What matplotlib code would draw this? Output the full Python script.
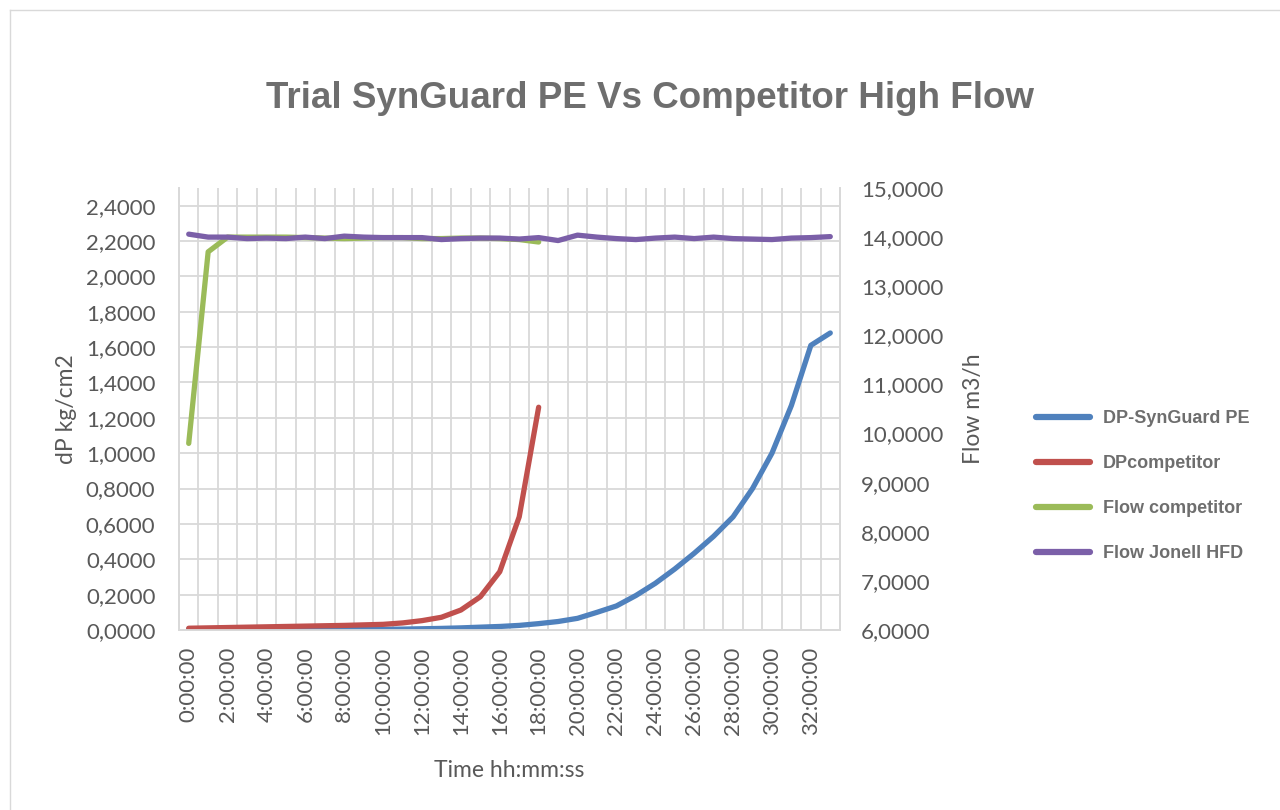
import matplotlib
matplotlib.use("Agg")
import matplotlib.pyplot as plt
from matplotlib.lines import Line2D
from matplotlib.ticker import FuncFormatter, FixedLocator

hours = list(range(34))
time_labels = [f"{h}:00:00" for h in hours]

dp_synguard = [0.005, 0.0, 0.0, 0.0, 0.0, 0.0, 0.0, 0.002, 0.002, 0.003, 0.004, 0.005,
               0.007, 0.009, 0.012, 0.016, 0.02, 0.026, 0.036, 0.048, 0.066, 0.10, 0.136,
               0.195, 0.264, 0.345, 0.434, 0.53, 0.64, 0.80, 1.0, 1.27, 1.61, 1.68]
dp_competitor = [0.01, 0.012, 0.014, 0.016, 0.018, 0.02, 0.022, 0.024, 0.026, 0.029,
                 0.032, 0.04, 0.053, 0.072, 0.113, 0.188, 0.33, 0.64, 1.26]
flow_competitor = [9.8, 13.7, 14.0, 14.0, 14.0, 14.0, 13.99, 13.98, 13.97, 13.98, 13.99,
                   13.99, 13.97, 13.97, 13.98, 13.98, 13.97, 13.95, 13.9]
flow_jonell = [14.06, 14.0, 14.0, 13.97, 13.98, 13.97, 14.0, 13.97, 14.02, 14.0, 13.99,
               13.99, 13.99, 13.95, 13.97, 13.98, 13.98, 13.96, 13.99, 13.93, 14.04, 14.0,
               13.97, 13.95, 13.98, 14.0, 13.97, 14.0, 13.97, 13.96, 13.95, 13.98, 13.99, 14.01]

series_names = ["DP-SynGuard PE", "DPcompetitor", "Flow competitor", "Flow Jonell HFD"]
colors = ["#4F81BD", "#C0504D", "#9BBB59", "#7B5FA8"]

TXT = "#595959"
GRID = "#D9D9D9"
tick_font = "Lato"

fig = plt.figure(figsize=(12.8, 8.1), dpi=100)
fig.patch.set_facecolor("white")

# outer chart border (top and left visible)
fig.add_artist(Line2D([10/1280, 1.0], [1 - 10/810, 1 - 10/810], color="#D9D9D9", lw=1))
fig.add_artist(Line2D([10/1280, 10/1280], [0, 1 - 10/810], color="#D9D9D9", lw=1))

ax = fig.add_axes([179/1280, 1 - 630/810, (840 - 179)/1280, (630 - 188)/810])
ax2 = ax.twinx()

lw = 3.8
ax.plot(hours[:len(dp_synguard)], dp_synguard, color=colors[0], lw=lw,
        solid_capstyle="round", solid_joinstyle="round", zorder=3)
ax.plot(hours[:len(dp_competitor)], dp_competitor, color=colors[1], lw=lw,
        solid_capstyle="round", solid_joinstyle="round", zorder=4)
ax2.plot(hours[:len(flow_competitor)], flow_competitor, color=colors[2], lw=lw,
         solid_capstyle="round", solid_joinstyle="round", zorder=3)
ax2.plot(hours[:len(flow_jonell)], flow_jonell, color=colors[3], lw=lw,
         solid_capstyle="round", solid_joinstyle="round", zorder=4)

ax.set_xlim(-0.5, 33.5)
ax.set_ylim(0, 2.5)
ax2.set_ylim(6, 15)

ax.yaxis.set_major_locator(FixedLocator([i * 0.2 for i in range(13)]))
ax2.yaxis.set_major_locator(FixedLocator(list(range(6, 16))))
fmt = FuncFormatter(lambda v, p: f"{v:.4f}".replace(".", ","))
ax.yaxis.set_major_formatter(fmt)
ax2.yaxis.set_major_formatter(fmt)

ax.set_xticks(hours[::2])
ax.set_xticklabels(time_labels[::2], rotation=90)
ax.set_xticks([h + 0.5 for h in hours[:-1]] + [-0.5], minor=True)

ax.grid(axis="y", which="major", color=GRID, lw=1.3)
ax.grid(axis="x", which="minor", color=GRID, lw=1.3)
ax.set_axisbelow(True)

for a in (ax, ax2):
    a.tick_params(axis="both", which="both", length=0, colors=TXT, labelsize=16)
    for lab in a.get_xticklabels() + a.get_yticklabels():
        lab.set_fontfamily(tick_font)
    a.spines["top"].set_visible(False)
    for s in ("left", "right", "bottom"):
        a.spines[s].set_color(GRID)
        a.spines[s].set_linewidth(1.3)

ax.tick_params(axis="x", pad=12)
ax.tick_params(axis="y", pad=17)
ax2.tick_params(axis="y", pad=15)

ax.set_ylabel("dP kg/cm2", fontsize=16.5, color=TXT, fontfamily=tick_font, labelpad=6)
ax2.set_ylabel("Flow m3/h", fontsize=16.5, color=TXT, fontfamily=tick_font, labelpad=14)
ax.set_xlabel("Time hh:mm:ss", fontsize=16.5, color=TXT, fontfamily=tick_font, labelpad=18)

fig.text(650/1280, 1 - 99/810, "Trial SynGuard PE Vs Competitor High Flow",
         ha="center", va="center", fontsize=26.5, fontweight="bold",
         color="#6E6E6E", fontfamily="Liberation Sans")

handles = [Line2D([0], [0], color=c, lw=4.5, solid_capstyle="round") for c in colors]
leg = fig.legend(handles, series_names, loc="center left",
                 bbox_to_anchor=(1020/1280, 1 - 486/810), frameon=False,
                 handlelength=3.0, handletextpad=0.7, labelspacing=1.55,
                 prop={"family": "Liberation Sans", "weight": "bold", "size": 13})
for t in leg.get_texts():
    t.set_color("#6E6E6E")

fig.savefig("out.png", dpi=100, facecolor="white")
